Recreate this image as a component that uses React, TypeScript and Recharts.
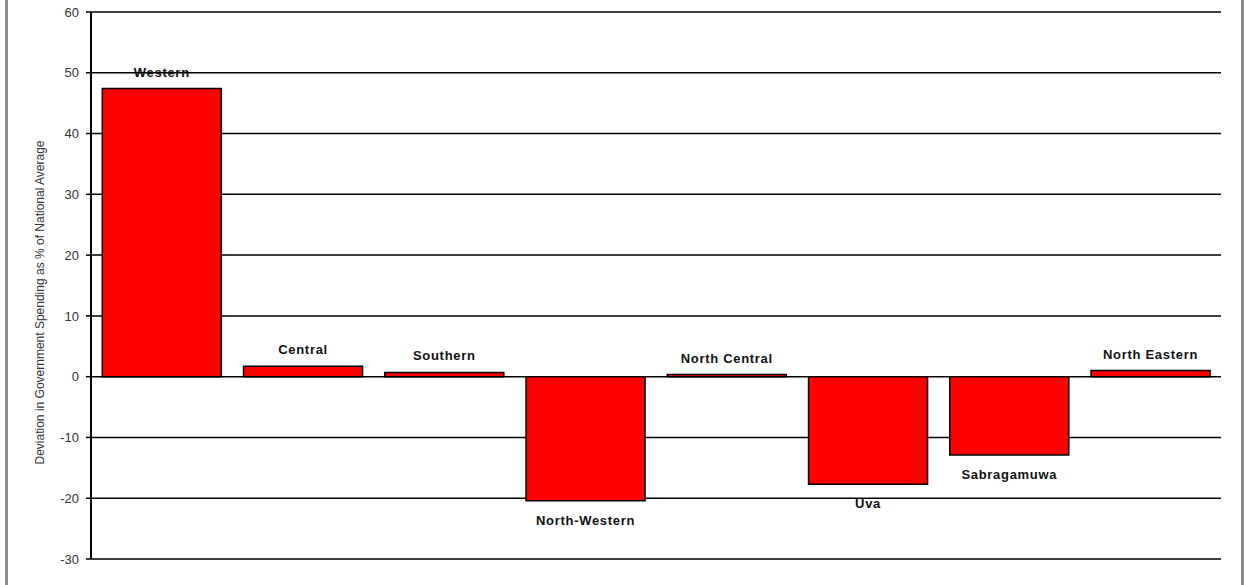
import { BarChart, Bar, XAxis, YAxis, CartesianGrid, LabelList, Label } from 'recharts';

const regions = ['Western', 'Central', 'Southern', 'North-Western', 'North Central', 'Uva', 'Sabragamuwa', 'North Eastern'];
const deviation = [47.4, 1.7, 0.7, -20.4, 0.35, -17.7, -12.9, 1.0];
const yTicks = [-30, -20, -10, 0, 10, 20, 30, 40, 50, 60];

const data = regions.map((name, i) => ({ name, value: deviation[i] }));

const FONT = '"Liberation Sans", Arial, sans-serif';

const RegionLabel = (props: any) => {
  const { x, y, width, height, value, index } = props;
  const top = Math.min(y, y + height);
  const bottom = Math.max(y, y + height);
  const cx = x + width / 2;
  const ty = value >= 0 ? top - 12 : bottom + 24;
  return (
    <text x={cx} y={ty} textAnchor="middle" fontFamily={FONT} fontSize={13} fontWeight="bold" letterSpacing={0.7} fill="#111">
      {regions[index]}
    </text>
  );
};

export default function App() {
  return (
    <div style={{ position: 'absolute', left: 0, top: 0, width: 1244, height: 585, background: '#fff' }}>
      <div style={{ position: 'absolute', left: 5, top: 0, width: 3, height: 585, background: '#8c8c8c' }} />
      <div style={{ position: 'absolute', left: 1241, top: 0, width: 3, height: 585, background: '#8c8c8c' }} />
      <BarChart
        width={1244}
        height={585}
        data={data}
        margin={{ top: 12, right: 23, bottom: 26, left: 31 }}
        barCategoryGap="8%"
      >
        <CartesianGrid vertical={false} stroke="#000" strokeWidth={1.5} yAxisId="left" />
        <XAxis dataKey="name" hide />
        <YAxis
          yAxisId="left"
          width={60}
          domain={[-30, 60]}
          ticks={yTicks}
          interval={0}
          axisLine={{ stroke: '#000', strokeWidth: 2 }}
          tickLine={{ stroke: '#000', strokeWidth: 1.5 }}
          tickSize={5}
          tick={{ fill: '#333', fontSize: 13, fontFamily: FONT, dx: -5 }}
        >
          <Label
            content={(p: any) => {
              const vb = p.viewBox;
              const cx = vb.x + 9;
              const cy = vb.y + vb.height / 2 + 17;
              return (
                <text x={cx} y={cy} transform={`rotate(-90, ${cx}, ${cy})`} textAnchor="middle" dominantBaseline="central" fontFamily={FONT} fontSize={12} fill="#333">
                  Deviation in Government Spending as % of National Average
                </text>
              );
            }}
          />
        </YAxis>
        <YAxis
          yAxisId="right"
          orientation="right"
          width={0}
          domain={[-30, 60]}
          tick={false}
          tickLine={false}
          axisLine={{ stroke: '#000', strokeWidth: 2 }}
        />
        <Bar yAxisId="left" dataKey="value" fill="#ff0000" stroke="#000" strokeWidth={1.5} isAnimationActive={false}>
          <LabelList dataKey="value" content={<RegionLabel />} />
        </Bar>
      </BarChart>
    </div>
  );
}
